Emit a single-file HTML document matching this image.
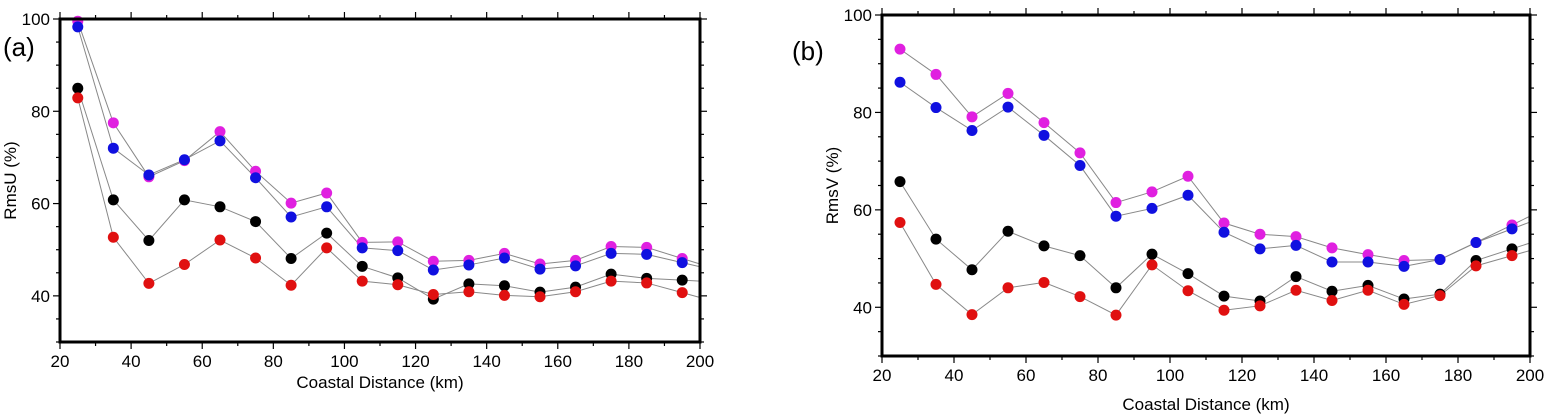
<!DOCTYPE html>
<html><head><meta charset="utf-8"><style>
body{margin:0;background:#fff;}
svg{display:block;font-family:"Liberation Sans",sans-serif;}
</style></head><body>
<svg id="s" width="1551" height="420" viewBox="0 0 1551 420"></svg>
<script>
const xs=[25,35,45,55,65,75,85,95,105,115,125,135,145,155,165,175,185,195];
const xTicks=[20,40,60,80,100,120,140,160,180,200];
const yTicks=[40,60,80,100];
const colors=['#e020e0','#1010e0','#000000','#e01010'];
const seriesNames=['magenta','blue','black','red'];
const aMagenta=[99.5,77.5,65.8,69.3,75.6,67,60.1,62.3,51.6,51.7,47.5,47.7,49.2,46.9,47.7,50.7,50.5,48.1];
const aBlue=[98.3,72,66.2,69.5,73.6,65.6,57.1,59.3,50.4,49.8,45.6,46.7,48.2,45.8,46.5,49.2,49,47.2];
const aBlack=[85,60.8,52,60.8,59.3,56.1,48.1,53.6,46.4,43.9,39.3,42.6,42.2,40.8,41.9,44.7,43.8,43.4];
const aRed=[82.9,52.7,42.7,46.8,52.1,48.2,42.3,50.4,43.2,42.4,40.3,40.9,40.1,39.8,40.9,43.2,42.8,40.7];
const bMagenta=[93.0,87.8,79.1,83.9,77.9,71.7,61.5,63.7,66.9,57.3,55.0,54.5,52.2,50.8,49.6,49.8,53.3,56.9];
const bBlue=[86.2,81.0,76.3,81.1,75.3,69.1,58.7,60.3,63.0,55.4,52.0,52.7,49.3,49.3,48.4,49.8,53.3,56.1];
const bBlack=[65.8,54.0,47.7,55.6,52.6,50.6,44.0,50.9,46.9,42.3,41.3,46.3,43.3,44.5,41.7,42.7,49.6,52.0];
const bRed=[57.4,44.7,38.5,44.0,45.1,42.2,38.4,48.7,43.4,39.4,40.3,43.5,41.4,43.5,40.6,42.4,48.5,50.6];
const NS='http://www.w3.org/2000/svg';
const svg=document.getElementById('s');
function mk(t,a,p){const e=document.createElementNS(NS,t);for(const k in a)e.setAttribute(k,a[k]);(p||svg).appendChild(e);return e;}
function panel(id,L,R,T,B,ylab,tag,tagX,tagY,xlabY,series){
  const g=mk('g',{});
  
  
  const X=v=>L+(v-20)/180*(R-L);
  const Y=v=>B-(v-30)/70*(B-T);
  // minor/major ticks
  for(let v=20;v<=200;v+=10){const len=v%20==0?7:4;
    mk('line',{x1:X(v),x2:X(v),y1:B,y2:B+len,stroke:'#000','stroke-width':1.2},g);
    mk('line',{x1:X(v),x2:X(v),y1:T,y2:T-len,stroke:'#000','stroke-width':1.2},g);}
  for(let v=30;v<=100;v+=5){const len=v%20==0?7:4;
    mk('line',{x1:L,x2:L-len,y1:Y(v),y2:Y(v),stroke:'#000','stroke-width':1.2},g);
    mk('line',{x1:R,x2:R+len,y1:Y(v),y2:Y(v),stroke:'#000','stroke-width':1.2},g);}
  xTicks.forEach(v=>{const t=mk('text',{x:X(v),y:B+25,'text-anchor':'middle','font-size':17},g);t.textContent=v;
    });
  yTicks.forEach(v=>{const t=mk('text',{x:L-10,y:Y(v)+6,'text-anchor':'end','font-size':17},g);t.textContent=v;
    });
  const xl=mk('text',{x:(L+R)/2,y:xlabY,'text-anchor':'middle','font-size':17},g);xl.textContent='Coastal Distance (km)';
  
  const cy=(T+B)/2;
  const yl=mk('text',{x:0,y:0,'text-anchor':'middle','font-size':17,transform:`translate(${L-44},${cy}) rotate(-90)`},g);yl.textContent=ylab;
  
  const tg=mk('text',{x:tagX,y:tagY,'font-size':26},g);tg.textContent=tag;
  
  series.forEach((vals,si)=>{
    let d='';vals.forEach((v,i)=>{d+=(i?'L':'M')+X(xs[i])+','+Y(v);});
    const n=vals.length;const ext=vals[n-1]+(vals[n-1]-vals[n-2])*0.5;
    d+='L'+X(200)+','+Y(ext);
    const p=mk('path',{d:d,fill:'none',stroke:'#888','stroke-width':1},g);
    
  });
  series.forEach((vals,si)=>{vals.forEach((v,i)=>{
    const c=mk('circle',{cx:X(xs[i]),cy:Y(v),r:5.5,fill:colors[si]},g);
    });});
  const f=mk('rect',{x:L,y:T,width:R-L,height:B-T,fill:'none',stroke:'#000','stroke-width':3},g);
  
}
panel('a',60,700,19,342,'RmsU (%)','(a)',3,56,388,[aMagenta,aBlue,aBlack,aRed]);
panel('b',882,1530,15,356,'RmsV (%)','(b)',792,60,410,[bMagenta,bBlue,bBlack,bRed]);
</script>
</body></html>
